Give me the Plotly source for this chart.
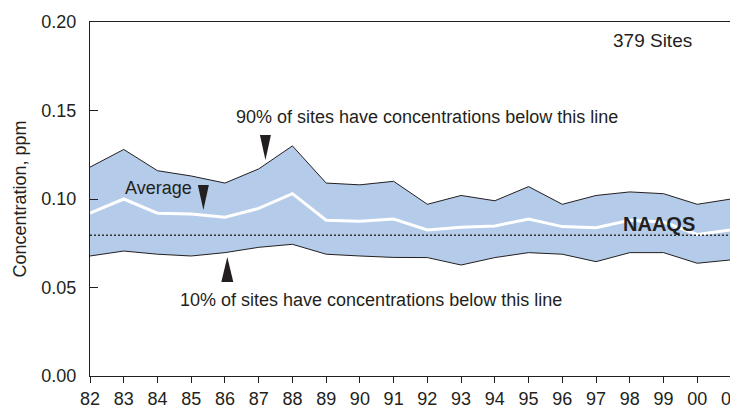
import plotly.graph_objects as go

years = list(range(1982, 2002))
year_labels = ["82", "83", "84", "85", "86", "87", "88", "89", "90", "91",
               "92", "93", "94", "95", "96", "97", "98", "99", "00", "01"]
pct90 = [0.118, 0.128, 0.116, 0.113, 0.109, 0.117, 0.130, 0.109, 0.108, 0.110,
         0.097, 0.102, 0.099, 0.107, 0.097, 0.102, 0.104, 0.103, 0.097, 0.100]
average = [0.092, 0.100, 0.092, 0.0915, 0.0897, 0.0947, 0.103, 0.088, 0.0874, 0.0887,
           0.0825, 0.084, 0.0848, 0.0887, 0.0844, 0.0838, 0.088, 0.087, 0.080, 0.0825]
pct10 = [0.0678, 0.0706, 0.0688, 0.0678, 0.0697, 0.0727, 0.0744, 0.0688, 0.0678, 0.067,
         0.0669, 0.0627, 0.0669, 0.0697, 0.0688, 0.0646, 0.0697, 0.0697, 0.0637, 0.0656]
naaqs = 0.0795
y_ticks = [0.00, 0.05, 0.10, 0.15, 0.20]

FILL = "rgb(180,203,233)"
INK = "#231f20"
FONT = "Liberation Sans, Arial, sans-serif"

fig = go.Figure()
fig.add_trace(go.Scatter(x=years, y=pct10, mode="lines",
                         line=dict(color=INK, width=1), hoverinfo="skip"))
fig.add_trace(go.Scatter(x=years, y=pct90, mode="lines", fill="tonexty",
                         fillcolor=FILL, line=dict(color=INK, width=1), hoverinfo="skip"))
fig.add_trace(go.Scatter(x=years, y=average, mode="lines",
                         line=dict(color="white", width=3), hoverinfo="skip"))

fig.add_shape(type="line", xref="paper", x0=0, x1=1, yref="y", y0=naaqs, y1=naaqs,
              line=dict(color="#333333", width=1.5, dash="2px,2px"))

# pointer triangles: (x anchor, y anchor, direction)
pointers = [(1987.2, 0.122, "down"), (1985.36, 0.0938, "down"), (1986.07, 0.0672, "up")]
for px, py, d in pointers:
    if d == "down":
        path = "M -5.5,25 L 5.5,25 L 0,0 Z"
    else:
        path = "M -6,-25 L 6,-25 L 0,0 Z"
    fig.add_shape(type="path", xref="x", yref="y", xsizemode="pixel", ysizemode="pixel",
                  xanchor=px, yanchor=py, path=path,
                  fillcolor=INK, line=dict(color=INK, width=0))

labels = [
    ("90% of sites have concentrations below this line", 1992.0, 0.1465, 18, False),
    ("Average", 1984.03, 0.1064, 18, False),
    ("10% of sites have concentrations below this line", 1990.33, 0.0429, 18, False),
    ("379 Sites", 1998.68, 0.1898, 19, False),
    ("NAAQS", 1998.87, 0.0859, 20, True),
]
for txt, ax_, ay_, fs, bold in labels:
    fig.add_annotation(x=ax_, y=ay_, xref="x", yref="y", showarrow=False,
                       text=f"<b>{txt}</b>" if bold else txt,
                       font=dict(family=FONT, size=fs, color=INK),
                       xanchor="center", yanchor="middle")

# page body has an 8px margin, so the figure is sized/offset to fill the 738x406 window
fig.update_layout(
    width=730, height=398,
    margin=dict(l=82, r=7, t=14, b=30, pad=0),
    paper_bgcolor="white", plot_bgcolor="white",
    showlegend=False,
    font=dict(family=FONT, size=18, color=INK),
)
fig.update_xaxes(range=[1982, 2001], tickvals=years, ticktext=year_labels,
                 showline=True, linecolor=INK, linewidth=1, mirror=True,
                 ticks="outside", ticklen=6, tickcolor=INK, showgrid=False, zeroline=False,
                 tickfont=dict(size=18), automargin=False, ticklabeloverflow="allow")
fig.update_yaxes(range=[0, 0.2], tickvals=y_ticks, tickformat=".2f",
                 showline=True, linecolor=INK, linewidth=1, mirror=True,
                 ticks="inside", ticklen=8, tickcolor=INK, showgrid=False, zeroline=False,
                 tickfont=dict(size=18), ticklabelstandoff=9, automargin=False,
                 ticklabeloverflow="allow",
                 title=dict(text="Concentration, ppm", font=dict(size=18), standoff=10))

fig.write_html("out.html")
